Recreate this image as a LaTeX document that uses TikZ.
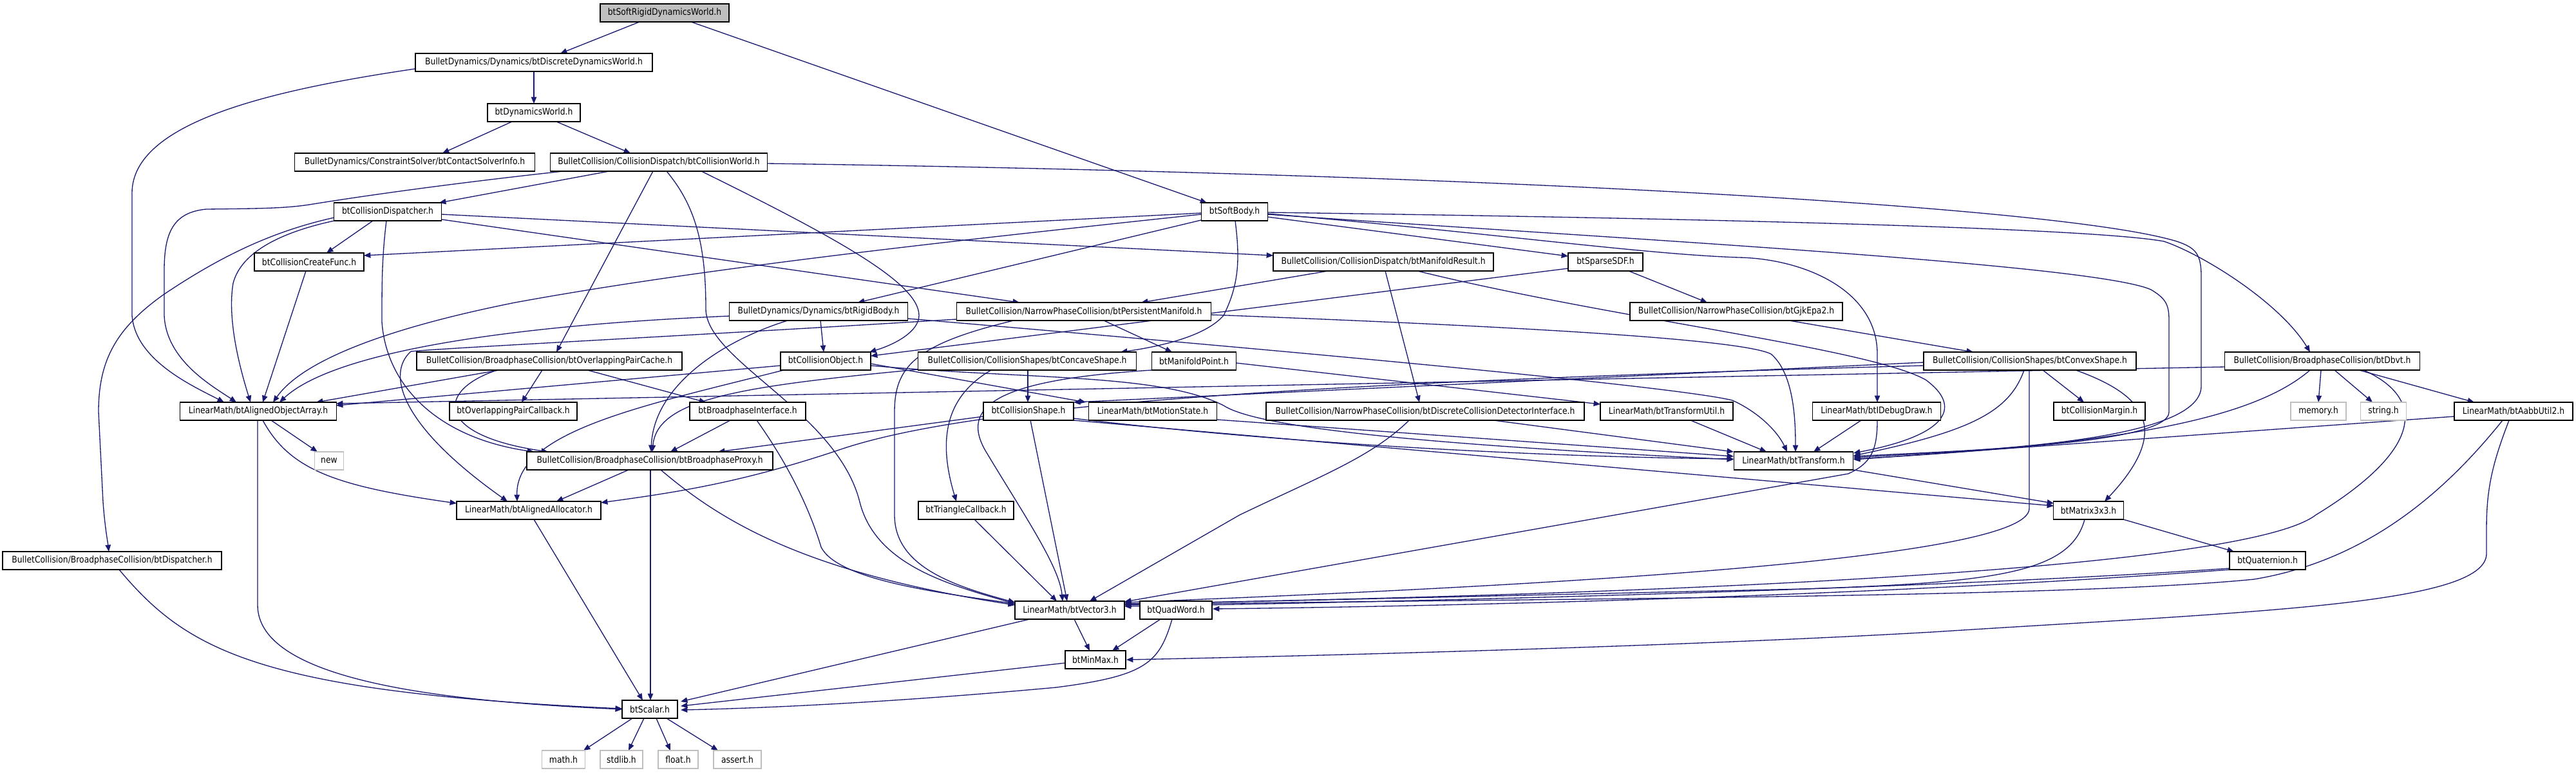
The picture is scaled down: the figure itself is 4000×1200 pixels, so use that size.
\documentclass[tikz,border=0pt]{standalone}
\usepackage{fontspec}
\newfontfamily\nodefont[FakeStretch=0.87]{DejaVu Sans}
\usetikzlibrary{calc,arrows.meta}
\definecolor{edgeblue}{HTML}{191970}
\definecolor{boxgray}{HTML}{BFBFBF}
\pgfdeclarelayer{edges}
\pgfsetlayers{edges,main}
\tikzset{
  nb/.style={draw=black, line width=0.4pt, fill=white, inner sep=0pt, minimum height=7pt,
    font={\nodefont\fontsize{3.55pt}{4.2pt}\selectfont}},
  ng/.style={nb, draw=boxgray},
  nt/.style={nb, fill=boxgray},
  e/.style={draw=edgeblue, line width=0.33pt, -{Triangle[length=2.6pt,width=2.1pt]}}
}
\begin{document}
\begin{tikzpicture}[x=0.25pt,y=-0.25pt]
\useasboundingbox (0,0) rectangle (4000,1200);
% nodes
\node[nt, minimum width=50pt] (top) at (1032,20) {btSoftRigidDynamicsWorld.h};
\node[nb, minimum width=92pt] (ddw) at (829,97) {BulletDynamics/Dynamics/btDiscreteDynamicsWorld.h};
\node[nb, minimum width=36pt] (dw) at (829,175) {btDynamicsWorld.h};
\node[nb, minimum width=93.25pt] (csi) at (644,252) {BulletDynamics/ConstraintSolver/btContactSolverInfo.h};
\node[nb, minimum width=84.25pt] (cw) at (1023,252) {BulletCollision/CollisionDispatch/btCollisionWorld.h};
\node[nb, minimum width=41.75pt] (cd) at (602,329) {btCollisionDispatcher.h};
\node[nb, minimum width=25.75pt] (sb) at (1917,329) {btSoftBody.h};
\node[nb, minimum width=42.5pt] (ccf) at (480,407) {btCollisionCreateFunc.h};
\node[nb, minimum width=85.5pt] (mr) at (2148,407) {BulletCollision/CollisionDispatch/btManifoldResult.h};
\node[nb, minimum width=29pt] (sdf) at (2493,407) {btSparseSDF.h};
\node[nb, minimum width=69.25pt] (rb) at (1271,484) {BulletDynamics/Dynamics/btRigidBody.h};
\node[nb, minimum width=98.75pt] (pm) at (1683,484) {BulletCollision/NarrowPhaseCollision/btPersistentManifold.h};
\node[nb, minimum width=82.5pt] (gjk) at (2696,484) {BulletCollision/NarrowPhaseCollision/btGjkEpa2.h};
\node[nb, minimum width=103pt] (opc) at (853,561) {BulletCollision/BroadphaseCollision/btOverlappingPairCache.h};
\node[nb, minimum width=35pt] (co) at (1282,561) {btCollisionObject.h};
\node[nb, minimum width=84.75pt] (cav) at (1595,561) {BulletCollision/CollisionShapes/btConcaveShape.h};
\node[nb, minimum width=32.75pt] (mp) at (1854,561) {btManifoldPoint.h};
\node[nb, minimum width=82.5pt] (cvx) at (3152,561) {BulletCollision/CollisionShapes/btConvexShape.h};
\node[nb, minimum width=75.75pt] (dbvt) at (3606,561) {BulletCollision/BroadphaseCollision/btDbvt.h};
\node[nb, minimum width=60.75pt] (aoa) at (401,639) {LinearMath/btAlignedObjectArray.h};
\node[nb, minimum width=49.5pt] (opcb) at (797,639) {btOverlappingPairCallback.h};
\node[nb, minimum width=45pt] (bi) at (1161,639) {btBroadphaseInterface.h};
\node[nb, minimum width=35pt] (cs) at (1597,639) {btCollisionShape.h};
\node[nb, minimum width=49.75pt] (ms) at (1790,639) {LinearMath/btMotionState.h};
\node[nb, minimum width=123.5pt] (dcdi) at (2213,639) {BulletCollision/NarrowPhaseCollision/btDiscreteCollisionDetectorInterface.h};
\node[nb, minimum width=51.5pt] (tu) at (2588,639) {LinearMath/btTransformUtil.h};
\node[nb, minimum width=49.75pt] (idd) at (2914,639) {LinearMath/btIDebugDraw.h};
\node[nb, minimum width=35.5pt] (cmg) at (3260,639) {btCollisionMargin.h};
\node[ng, minimum width=21.5pt] (mem) at (3600,639) {memory.h};
\node[ng, minimum width=17.75pt] (str) at (3701,639) {string.h};
\node[nb, minimum width=46pt] (aabb) at (3903,639) {LinearMath/btAabbUtil2.h};
\node[ng, minimum width=11.25pt] (new) at (511,716) {new};
\node[nb, minimum width=95.5pt] (bp) at (1009,716) {BulletCollision/BroadphaseCollision/btBroadphaseProxy.h};
\node[nb, minimum width=46.25pt] (tr) at (2785,716) {LinearMath/btTransform.h};
\node[nb, minimum width=56pt] (aal) at (821,793) {LinearMath/btAlignedAllocator.h};
\node[nb, minimum width=37pt] (tcb) at (1500,793) {btTriangleCallback.h};
\node[nb, minimum width=27.25pt] (m33) at (3243,793) {btMatrix3x3.h};
\node[nb, minimum width=85pt] (disp) at (174,871) {BulletCollision/BroadphaseCollision/btDispatcher.h};
\node[nb, minimum width=29.5pt] (quat) at (3521,871) {btQuaternion.h};
\node[nb, minimum width=42.5pt] (v3) at (1661,948) {LinearMath/btVector3.h};
\node[nb, minimum width=28pt] (qw) at (1826,948) {btQuadWord.h};
\node[nb, minimum width=23.5pt] (mm) at (1701,1025) {btMinMax.h};
\node[nb, minimum width=21.5pt] (sc) at (1009,1102) {btScalar.h};
\node[ng, minimum width=16.75pt] (math) at (875,1180) {math.h};
\node[ng, minimum width=16.5pt] (stdlib) at (965,1180) {stdlib.h};
\node[ng, minimum width=15.5pt] (float) at (1053,1180) {float.h};
\node[ng, minimum width=18.5pt] (assert) at (1145,1180) {assert.h};

\begin{pgfonlayer}{edges}
% top
\draw[e] ($(top)+(-39,14)$) -- ($(ddw)+(41,-14)$);
\draw[e] ($(top)+(41,14)$) -- ($(sb)+(-43,-14)$);
% ddw
\draw[e] ($(ddw)+(0,14)$) -- ($(dw)+(0,-14)$);
\draw[e] ($(ddw)+(-185,10)$) .. controls (420,140) and (205,190) .. (205,300) -- (205,490) .. controls (210,560) and (300,600) .. ($(aoa)+(-53,-14)$);
% dw
\draw[e] ($(dw)+(-34,14)$) -- ($(csi)+(43,-14)$);
\draw[e] ($(dw)+(35,14)$) -- ($(cw)+(-44,-14)$);
% cw
\draw[e] ($(cw)+(-77,14)$) -- ($(cd)+(80,-14)$);
\draw[e] ($(cw)+(-148,14)$) .. controls (700,285) and (560,305) .. (480,318) .. controls (440,324) and (400,324) .. (320,325) .. controls (270,330) and (255,360) .. (255,420) -- (255,490) .. controls (258,560) and (330,600) .. ($(aoa)+(-34,-14)$);
\draw[e] ($(cw)+(-9,14)$) -- ($(opc)+(11,-14)$);
\draw[e] ($(cw)+(66,14)$) .. controls (1300,370) and (1427,440) .. (1427,490) .. controls (1427,515) and (1390,535) .. ($(co)+(68,-14)$);
\draw[e] ($(cw)+(12,14)$) .. controls (1080,320) and (1096,380) .. (1096,480) .. controls (1096,560) and (1300,640) .. (1335,780) .. controls (1360,880) and (1480,910) .. ($(v3)+(-85,-10)$);
\draw[e] ($(cw)+(168,2)$) .. controls (2300,270) and (3200,320) .. (3380,375) .. controls (3410,385) and (3418,395) .. (3418,430) -- (3418,600) .. controls (3418,690) and (3050,700) .. ($(tr)+(93,-5)$);
% cd
\draw[e] ($(cd)+(-23,14)$) -- ($(ccf)+(27,-14)$);
\draw[e] ($(cd)+(-2,14)$) .. controls (593,400) and (593,440) .. (593,500) .. controls (600,600) and (680,680) .. ($(bp)+(-180,-14)$);
\draw[e] ($(cd)+(84,4)$) -- ($(mr)+(-171,-10)$);
\draw[e] ($(cd)+(84,12)$) -- ($(pm)+(-100,-14)$);
\draw[e] ($(cd)+(-83,14)$) .. controls (440,360) and (375,390) .. (362,440) .. controls (352,500) and (375,580) .. ($(aoa)+(-12,-14)$);
\draw[e] ($(cd)+(-83,9)$) .. controls (420,360) and (340,400) .. (255,457) .. controls (180,510) and (153,560) .. (153,640) -- (160,780) .. controls (163,820) and (167,840) .. ($(disp)+(-5,-14)$);
% sb
\draw[e] ($(sb)+(-52,2)$) -- ($(ccf)+(85,-10)$);
\draw[e] ($(sb)+(-52,4)$) .. controls (1500,372) and (1100,415) .. (800,470) .. controls (600,510) and (470,560) .. ($(aoa)+(23,-14)$);
\draw[e] ($(sb)+(-52,13)$) -- ($(rb)+(61,-14)$);
\draw[e] ($(sb)+(1,14)$) .. controls (1925,400) and (1925,440) .. (1900,490) .. controls (1870,525) and (1790,540) .. ($(cav)+(145,-14)$);
\draw[e] ($(sb)+(51,8)$) -- ($(sdf)+(-58,-9)$);
\draw[e] ($(sb)+(51,3)$) .. controls (2300,360) and (2550,395) .. (2700,400) .. controls (2800,402) and (2915,450) .. (2915,550) -- ($(idd)+(1,-14)$);
\draw[e] ($(sb)+(51,4)$) .. controls (2500,370) and (3250,410) .. (3340,450) .. controls (3365,465) and (3368,475) .. (3368,500) -- (3368,640) .. controls (3368,690) and (3050,700) .. ($(tr)+(93,-7)$);
\draw[e] ($(sb)+(51,1)$) .. controls (2700,340) and (3250,355) .. (3360,375) .. controls (3420,395) and (3540,470) .. ($(dbvt)+(-19,-14)$);
% rb
\draw[e] ($(rb)+(-138,7)$) .. controls (800,505) and (520,545) .. ($(aoa)+(33,-14)$);
\draw[e] ($(rb)+(3,14)$) -- ($(co)+(-3,-14)$);
\draw[e] ($(rb)+(-48,14)$) .. controls (1120,530) and (1015,600) .. ($(bp)+(2,-14)$);
\draw[e] ($(rb)+(139,11)$) .. controls (2000,545) and (2600,600) .. (2690,622) .. controls (2730,640) and (2760,670) .. ($(tr)+(-10,-14)$);
% pm
\draw[e] ($(pm)+(31,14)$) -- ($(mp)+(-34,-14)$);
\draw[e] ($(pm)+(197,5)$) .. controls (2300,505) and (2700,525) .. (2750,550) .. controls (2785,580) and (2788,650) .. ($(tr)+(3,-14)$);
\draw[e] ($(pm)+(-198,12)$) .. controls (1100,520) and (700,540) .. (638,546) .. controls (600,580) and (620,660) .. ($(aal)+(-33,-14)$);
\draw[e] ($(pm)+(-109,14)$) .. controls (1420,535) and (1389,570) .. (1389,640) -- (1389,800) .. controls (1389,880) and (1480,910) .. ($(v3)+(-85,-12)$);
% mr
\draw[e] ($(mr)+(-86,14)$) -- ($(pm)+(89,-14)$);
\draw[e] ($(mr)+(3,14)$) -- ($(dcdi)+(-9,-14)$);
\draw[e] ($(mr)+(53,14)$) .. controls (2500,495) and (2900,540) .. (2990,590) .. controls (3045,630) and (3030,675) .. ($(tr)+(93,-12)$);
% sdf, gjk
\draw[e] ($(sdf)+(-58,10)$) -- ($(co)+(70,-8)$);
\draw[e] ($(sdf)+(36,14)$) -- ($(gjk)+(-45,-14)$);
\draw[e] ($(gjk)+(82,14)$) -- ($(cvx)+(-88,-14)$);
% opc
\draw[e] ($(opc)+(-78,14)$) -- ($(aoa)+(90,-14)$);
\draw[e] ($(opc)+(-11,14)$) -- ($(opcb)+(13,-14)$);
\draw[e] ($(opc)+(-81,14)$) .. controls (680,605) and (670,675) .. ($(bp)+(-158,-14)$);
\draw[e] ($(opc)+(59,14)$) -- ($(bi)+(-65,-14)$);
% co
\draw[e] ($(co)+(70,4)$) -- ($(ms)+(-104,-14)$);
\draw[e] ($(co)+(70,7)$) .. controls (1600,590) and (1800,580) .. (1900,630) .. controls (1960,670) and (2300,695) .. ($(tr)+(-93,-2)$);
\draw[e] ($(co)+(-70,7)$) -- ($(aoa)+(121,-9)$);
\draw[e] ($(co)+(-65,14)$) .. controls (1000,630) and (800,670) .. ($(aal)+(-18,-14)$);
% cav
\draw[e] ($(cav)+(1,14)$) -- ($(cs)+(-1,-14)$);
\draw[e] ($(cav)+(-56,14)$) .. controls (1470,615) and (1455,680) .. ($(tcb)+(-15,-14)$);
\draw[e] ($(cav)+(-169,13)$) .. controls (1150,600) and (1020,620) .. ($(bp)+(4,-14)$);
% mp
\draw[e] ($(mp)+(-65,14)$) .. controls (1550,590) and (1490,630) .. (1530,700) .. controls (1590,800) and (1645,880) .. ($(v3)+(-11,-14)$);
\draw[e] ($(mp)+(66,3)$) -- ($(tu)+(-103,-11)$);
% cvx
\draw[e] ($(cvx)+(-165,2)$) -- ($(cs)+(70,-14)$);
\draw[e] ($(cvx)+(-165,7)$) .. controls (2000,595) and (1500,630) .. (1300,700) .. controls (1150,750) and (1050,765) .. ($(aal)+(112,-12)$);
\draw[e] ($(cvx)+(-9,14)$) .. controls (3120,640) and (3060,670) .. ($(tr)+(93,-8)$);
\draw[e] ($(cvx)+(-1,14)$) -- (3151,790) .. controls (3151,870) and (2400,910) .. ($(v3)+(85,-12)$);
\draw[e] ($(cvx)+(20,14)$) -- ($(cmg)+(-24,-14)$);
\draw[e] ($(cvx)+(71,14)$) .. controls (3320,610) and (3380,660) .. ($(m33)+(25,-14)$);
% dbvt
\draw[e] ($(dbvt)+(-151,9)$) -- ($(aoa)+(121,-12)$);
\draw[e] ($(dbvt)+(-19,14)$) .. controls (3500,650) and (3300,690) .. ($(tr)+(93,-3)$);
\draw[e] ($(dbvt)+(-2,14)$) -- ($(mem)+(0,-14)$);
\draw[e] ($(dbvt)+(19,14)$) -- ($(str)+(-17,-14)$);
\draw[e] ($(dbvt)+(57,14)$) -- ($(aabb)+(-61,-14)$);
\draw[e] ($(dbvt)+(64,14)$) .. controls (3770,620) and (3760,700) .. (3596,800) .. controls (3480,890) and (2500,925) .. ($(v3)+(85,-10)$);
% aabb
\draw[e] ($(aabb)+(-92,8)$) -- ($(tr)+(93,-2)$);
\draw[e] ($(aabb)+(-17,14)$) .. controls (3800,760) and (3680,870) .. (3500,900) .. controls (3200,930) and (2300,930) .. ($(v3)+(85,-8)$);
\draw[e] ($(aabb)+(-7,14)$) .. controls (3870,720) and (3861,760) .. (3861,820) -- (3861,860) .. controls (3861,940) and (3500,950) .. (3000,982) .. controls (2600,1005) and (2000,1020) .. ($(mm)+(48,0)$);
% aoa
\draw[e] ($(aoa)+(7,14)$) .. controls (450,730) and (520,755) .. ($(aal)+(-112,-11)$);
\draw[e] ($(aoa)+(20,14)$) -- ($(new)+(-18,-14)$);
\draw[e] ($(aoa)+(-1,14)$) -- (400,940) .. controls (400,1060) and (700,1090) .. ($(sc)+(-43,0)$);
% ccf, disp, aal
\draw[e] ($(ccf)+(-5,14)$) -- ($(aoa)+(7,-14)$);
\draw[e] ($(disp)+(11,14)$) .. controls (290,1010) and (400,1075) .. ($(sc)+(-43,-1)$);
\draw[e] ($(aal)+(8,14)$) -- ($(sc)+(-11,-14)$);
% bp
\draw[e] ($(bp)+(17,14)$) .. controls (1120,810) and (1250,890) .. ($(v3)+(-85,-8)$);
\draw[e] ($(bp)+(1,14)$) -- ($(sc)+(1,-14)$);
\draw[e] ($(bp)+(-33,14)$) -- ($(aal)+(43,-14)$);
% bi
\draw[e] ($(bi)+(-27,14)$) -- ($(bp)+(32,-14)$);
\draw[e] ($(bi)+(14,14)$) .. controls (1230,730) and (1260,800) .. (1275,850) .. controls (1300,900) and (1450,920) .. ($(v3)+(-85,-10)$);
% cs
\draw[e] ($(cs)+(-70,8)$) -- ($(bp)+(106,-14)$);
\draw[e] ($(cs)+(3,14)$) -- ($(v3)+(-4,-14)$);
\draw[e] ($(cs)+(70,11)$) .. controls (2000,690) and (2400,710) .. ($(tr)+(-93,-3)$);
\draw[e] ($(cs)+(70,14)$) -- ($(m33)+(-54,-7)$);
% ms, dcdi, tu, idd
\draw[e] ($(ms)+(100,13)$) -- ($(tr)+(-93,-7)$);
\draw[e] ($(dcdi)+(106,14)$) -- ($(tr)+(-93,-14)$);
\draw[e] ($(dcdi)+(-25,14)$) .. controls (2130,710) and (2050,740) .. (1925,800) -- ($(v3)+(31,-14)$);
\draw[e] ($(tu)+(37,14)$) -- ($(tr)+(-42,-14)$);
\draw[e] ($(idd)+(-24,14)$) -- ($(tr)+(31,-14)$);
\draw[e] ($(idd)+(1,14)$) .. controls (2915,700) and (2905,720) .. (2870,736) -- ($(v3)+(85,-13)$);
% tr, m33, quat
\draw[e] ($(tr)+(93,14)$) -- ($(m33)+(-54,-11)$);
\draw[e] ($(m33)+(54,14)$) -- ($(quat)+(-52,-14)$);
\draw[e] ($(m33)+(-6,14)$) .. controls (3215,890) and (3100,905) .. (2800,915) -- ($(v3)+(85,-9)$);
\draw[e] ($(quat)+(-59,12)$) .. controls (3000,915) and (2200,935) .. ($(v3)+(85,-6)$);
\draw[e] ($(quat)+(-59,14)$) .. controls (3000,920) and (2400,940) .. ($(qw)+(57,-2)$);
% qw, v3, mm, tcb
\draw[e] ($(qw)+(-24,14)$) -- ($(mm)+(26,-14)$);
\draw[e] ($(qw)+(-6,14)$) .. controls (1800,1030) and (1780,1050) .. (1640,1068) .. controls (1400,1090) and (1200,1100) .. ($(sc)+(48,1)$);
\draw[e] ($(v3)+(-62,14)$) -- ($(sc)+(48,-12)$);
\draw[e] ($(v3)+(7,14)$) -- ($(mm)+(-9,-14)$);
\draw[e] ($(mm)+(-47,5)$) -- ($(sc)+(48,-5)$);
\draw[e] ($(tcb)+(13,14)$) -- ($(v3)+(-20,-14)$);
% sc
\draw[e] ($(sc)+(-27,14)$) -- ($(math)+(31,-14)$);
\draw[e] ($(sc)+(-9,14)$) -- ($(stdlib)+(11,-14)$);
\draw[e] ($(sc)+(10,14)$) -- ($(float)+(-12,-14)$);
\draw[e] ($(sc)+(26,14)$) -- ($(assert)+(-30,-14)$);
\end{pgfonlayer}
\end{tikzpicture}
\end{document}
